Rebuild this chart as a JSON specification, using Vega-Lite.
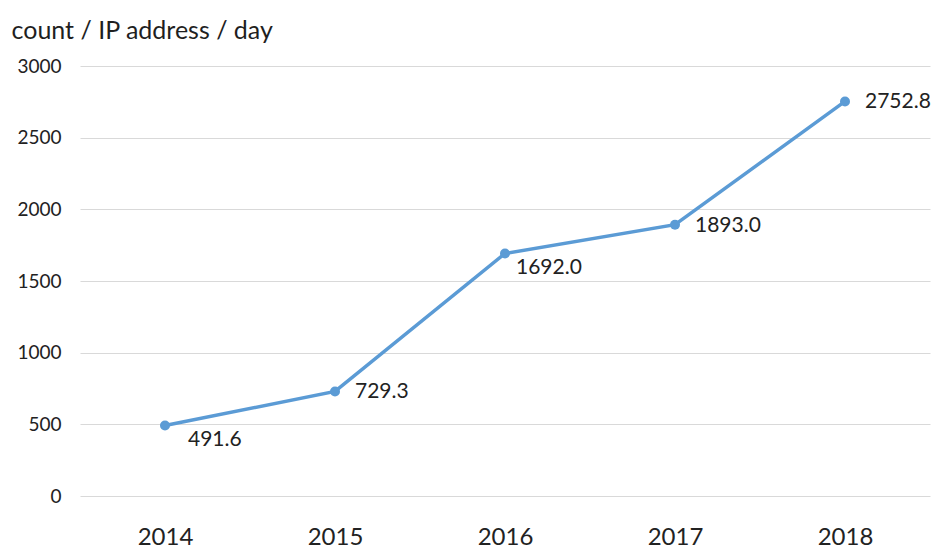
{
  "$schema": "https://vega.github.io/schema/vega-lite/v6.json",
  "autosize": {"type": "none"},
  "padding": {"left": 80, "top": 66, "right": 2, "bottom": 53},
  "width": 850,
  "height": 430,
  "background": "white",
  "config": {
    "view": {"stroke": null},
    "font": "Lato"
  },
  "data": {
    "values": [
      {"year": "2014", "value": 491.6},
      {"year": "2015", "value": 729.3},
      {"year": "2016", "value": 1692.0},
      {"year": "2017", "value": 1893.0},
      {"year": "2018", "value": 2752.8}
    ]
  },
  "encoding": {
    "x": {
      "field": "year", "type": "ordinal",
      "scale": {"type": "point", "padding": 0.5},
      "axis": {
        "title": null, "labelAngle": 0, "domain": false, "ticks": false, "grid": false,
        "labelFontSize": 24, "labelColor": "#222222", "labelPadding": 29, "labelFont": "Lato"
      }
    },
    "y": {
      "field": "value", "type": "quantitative",
      "scale": {"domain": [0, 3000], "nice": false},
      "axis": {
        "values": [0, 500, 1000, 1500, 2000, 2500, 3000],
        "format": "d",
        "domain": false, "ticks": false, "gridColor": "#d9d9d9", "gridWidth": 1.2,
        "labelFontSize": 19, "labelColor": "#222222", "labelPadding": 19,
        "title": "count / IP address / day", "titleAngle": 0, "titleAlign": "left",
        "titleX": -69, "titleY": -36, "titleBaseline": "middle",
        "titleFontSize": 25, "titleFontWeight": "normal", "titleColor": "#1f1f1f"
      }
    }
  },
  "layer": [
    {"mark": {"type": "line", "color": "#5B9BD5", "strokeWidth": 3.5}},
    {"mark": {"type": "point", "filled": true, "color": "#5B9BD5", "size": 100, "opacity": 1}},
    {
      "transform": [{"filter": "datum.year == '2014'"}],
      "mark": {"type": "text", "align": "left", "baseline": "middle", "dx": 23, "dy": 14, "fontSize": 21, "color": "#222222"},
      "encoding": {"text": {"field": "value", "type": "quantitative", "format": ".1f"}}
    },
    {
      "transform": [{"filter": "datum.year == '2016'"}],
      "mark": {"type": "text", "align": "left", "baseline": "middle", "dx": 11, "dy": 15, "fontSize": 21, "color": "#222222"},
      "encoding": {"text": {"field": "value", "type": "quantitative", "format": ".1f"}}
    },
    {
      "transform": [{"filter": "datum.year != '2014' && datum.year != '2016'"}],
      "mark": {"type": "text", "align": "left", "baseline": "middle", "dx": 20, "dy": 1, "fontSize": 21, "color": "#222222"},
      "encoding": {"text": {"field": "value", "type": "quantitative", "format": ".1f"}}
    }
  ]
}
